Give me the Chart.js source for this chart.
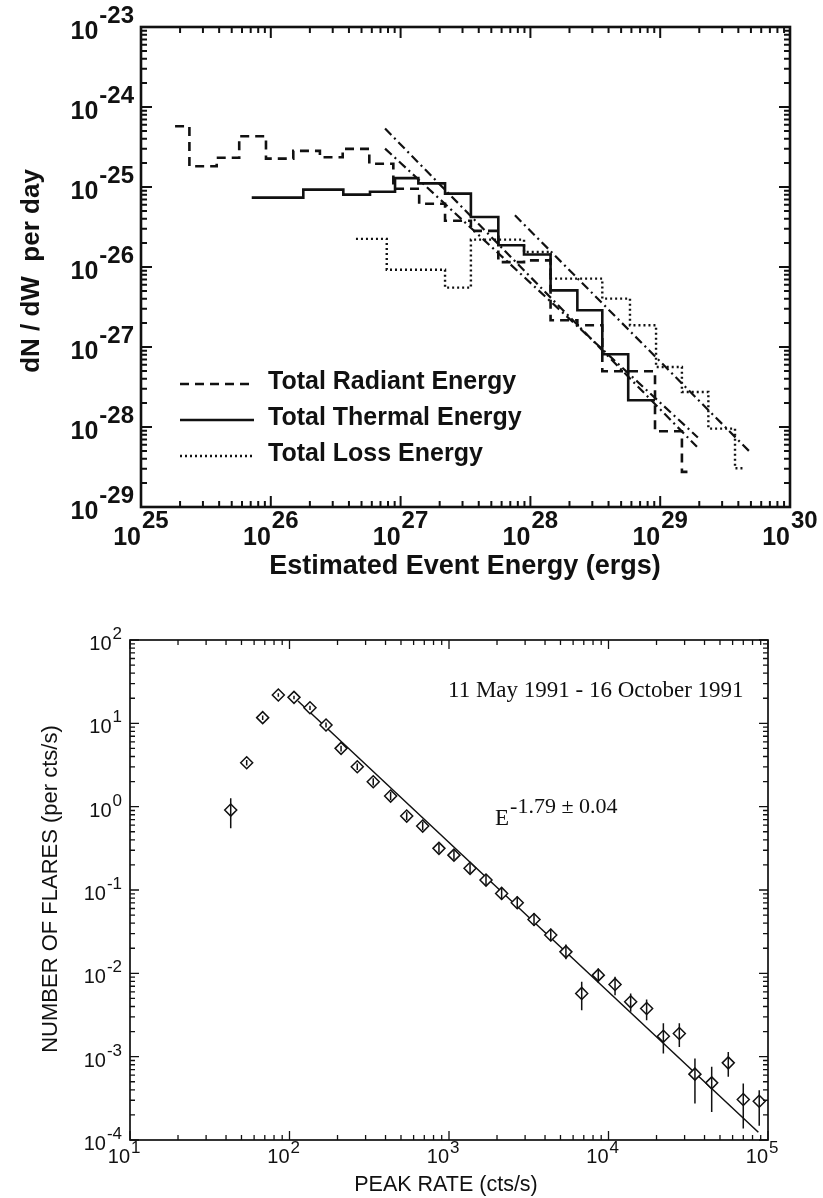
<!DOCTYPE html>
<html><head><meta charset="utf-8">
<script src="https://cdn.jsdelivr.net/npm/chart.js@4/dist/chart.umd.min.js"></script>
<style>
html,body{margin:0;padding:0;background:#fff;}
#wrap{position:relative;width:823px;height:1198px;overflow:hidden;background:#fff;}
#c1{position:absolute;left:0;top:0;}
#c2{position:absolute;left:0;top:590px;}
</style></head><body>
<div id="wrap"><canvas id="c1" width="823" height="590"></canvas><canvas id="c2" width="823" height="608"></canvas></div>
<script>
// ---------------- Top panel data ----------------
const TOP_LEGEND = ['Total Radiant Energy', 'Total Thermal Energy', 'Total Loss Energy'];
const TOP_X_EXPS = [25, 26, 27, 28, 29, 30];
const TOP_Y_EXPS = [-29, -28, -27, -26, -25, -24, -23];

const radiantEdges = [1.83e25, 2.36e25, 3.83e25, 5.71e25, 9.18e25, 1.49e26, 2.39e26, 3.58e26, 5.74e26, 8.79e26, 1.39e27, 2.20e27, 3.48e27, 5.66e27, 8.93e27, 1.43e28, 2.30e28, 3.58e28, 9.12e28, 1.47e29, 1.76e29];
const radiantValues = [5.74e-25, 1.82e-25, 2.32e-25, 4.31e-25, 2.26e-25, 2.83e-25, 2.35e-25, 3.00e-25, 1.95e-25, 9.49e-26, 6.17e-26, 3.78e-26, 2.83e-26, 1.15e-26, 1.21e-26, 2.16e-27, 1.87e-27, 4.97e-28, 8.83e-29, 2.75e-29];

const thermalEdges = [7.13e25, 1.78e26, 3.62e26, 5.81e26, 9.06e26, 1.37e27, 2.20e27, 3.48e27, 5.66e27, 8.93e27, 1.43e28, 2.30e28, 3.58e28, 5.67e28, 9.12e28];
const thermalValues = [7.37e-26, 9.27e-26, 8.04e-26, 8.71e-26, 1.29e-25, 1.11e-25, 8.27e-26, 4.22e-26, 1.87e-26, 1.43e-26, 5.11e-27, 2.88e-27, 8.11e-28, 2.16e-28];

const lossEdges = [4.53e26, 7.82e26, 2.20e27, 3.48e27, 8.93e27, 1.43e28, 3.58e28, 5.85e28, 9.29e28, 1.47e29, 2.35e29, 3.77e29, 4.34e29];
const lossValues = [2.25e-26, 9.23e-27, 5.52e-27, 2.20e-26, 1.54e-26, 7.16e-27, 4.03e-27, 1.87e-27, 5.62e-28, 2.74e-28, 9.55e-29, 3.05e-29];

const fitAEnergy = [7.59e26, 1.92e29];
const fitAValue  = [5.37e-25, 5.65e-29];
const fitBEnergy = [7.59e26, 1.95e29];
const fitBValue  = [3.02e-25, 7.40e-29];
const fitCEnergy = [7.60e27, 4.92e29];
const fitCValue  = [4.43e-26, 4.87e-29];

// ---------------- Bottom panel data ----------------
const BOT_X_EXPS = [1, 2, 3, 4, 5];
const BOT_Y_EXPS = [-4, -3, -2, -1, 0, 1, 2];
const peakRate = [42.8, 53.9, 67.9, 85.1, 106.7, 134.4, 169.4, 210.5, 266, 335, 430.5, 543, 684, 865, 1074, 1355, 1706, 2138, 2679, 3412, 4345, 5408, 6792, 8630, 10990, 13770, 17340, 22080, 27800, 34830, 44360, 56360, 69980, 88100];
const flares = [0.91, 3.37, 11.7, 21.9, 20.5, 15.4, 9.55, 5.01, 3.01, 1.99, 1.34, 0.771, 0.585, 0.316, 0.262, 0.182, 0.1315, 0.0910, 0.0702, 0.0443, 0.0288, 0.0181, 0.00574, 0.00951, 0.00736, 0.00455, 0.00379, 0.00176, 0.00190, 0.000617, 0.000485, 0.000843, 0.000306, 0.000292];
const flaresLo = [0.55, 3.12, 11.0, 20.8, 19.5, 14.5, 8.9, 4.6, 2.75, 1.8, 1.2, 0.69, 0.52, 0.28, 0.23, 0.158, 0.113, 0.077, 0.059, 0.037, 0.0242, 0.0148, 0.00361, 0.00769, 0.00547, 0.00345, 0.00274, 0.00109, 0.00131, 0.000274, 0.000217, 0.000573, 0.000137, 0.000148];
const flaresHi = [1.26, 3.62, 12.4, 23.0, 21.5, 16.3, 10.2, 5.4, 3.3, 2.2, 1.5, 0.86, 0.66, 0.36, 0.30, 0.21, 0.153, 0.107, 0.084, 0.053, 0.0343, 0.0222, 0.00791, 0.01146, 0.00908, 0.00574, 0.00486, 0.00251, 0.00251, 0.00095, 0.000755, 0.00114, 0.000476, 0.000396];
const fitRate = [113, 87000];
const fitFlares = [18.5, 1.24e-4];
const DATE_TEXT = '11 May 1991 - 16 October 1991';
const FIT_BASE = 'E';
const FIT_EXP = '-1.79 \u00B1 0.04';

// ---------------- helpers ----------------
function stepPoints(edges, values) {
  return edges.map((e, i) => ({ x: e, y: values[Math.min(i, values.length - 1)] }));
}
function pairPoints(xs, ys) { return xs.map((v, i) => ({ x: v, y: ys[i] })); }

function logTicks(scale, fn) {
  const lo = Math.floor(Math.log10(scale.min) - 1e-9), hi = Math.ceil(Math.log10(scale.max) + 1e-9);
  for (let e = lo; e <= hi; e++) {
    for (let m = 1; m <= 9; m++) {
      const v = m * Math.pow(10, e);
      if (v < scale.min * 0.9999 || v > scale.max * 1.0001) continue;
      fn(scale.getPixelForValue(v), m === 1);
    }
  }
}

function drawPow(ctx, exp, anchor, baseY, expY, mode, o) {
  const es = String(exp);
  ctx.font = o.expFont; const ew = ctx.measureText(es).width;
  ctx.font = o.baseFont; const bw = ctx.measureText('10').width;
  let bx, ex;
  if (mode === 'x') { bx = anchor - bw; ex = anchor + o.expGap; }
  else { ex = anchor - ew; bx = ex - o.expGap - bw; }
  ctx.textAlign = 'left'; ctx.textBaseline = 'alphabetic';
  ctx.font = o.baseFont; ctx.fillText('10', bx, baseY);
  ctx.font = o.expFont; ctx.fillText(es, ex, expY);
}

const framePlugin = {
  id: 'frame',
  afterDatasetsDraw(chart, args, o) {
    const ctx = chart.ctx, a = chart.chartArea, xs = chart.scales.x, ys = chart.scales.y;
    ctx.save();
    ctx.setLineDash([]);
    ctx.strokeStyle = '#111'; ctx.fillStyle = '#111';
    ctx.lineWidth = o.tickWidth; ctx.lineCap = 'butt';
    ctx.beginPath();
    logTicks(xs, (p, major) => {
      const L = major ? o.major : o.minor;
      ctx.moveTo(p, a.bottom); ctx.lineTo(p, a.bottom - L);
      ctx.moveTo(p, a.top); ctx.lineTo(p, a.top + L);
    });
    logTicks(ys, (p, major) => {
      const L = major ? o.major : o.minor;
      ctx.moveTo(a.left, p); ctx.lineTo(a.left + L, p);
      ctx.moveTo(a.right, p); ctx.lineTo(a.right - L, p);
    });
    ctx.stroke();
    ctx.lineWidth = o.frameWidth;
    ctx.strokeRect(a.left, a.top, a.right - a.left, a.bottom - a.top);
    // tick labels
    o.xExps.forEach(e => {
      const p = xs.getPixelForValue(Math.pow(10, e));
      drawPow(ctx, e, p, o.xBaseY, o.xExpY, 'x', o);
    });
    o.yExps.forEach(e => {
      const p = ys.getPixelForValue(Math.pow(10, e));
      drawPow(ctx, e, o.yRight, p + o.yBaseOff, p + o.yExpOff, 'y', o);
    });
    // axis titles
    ctx.textAlign = 'center'; ctx.textBaseline = 'middle';
    ctx.font = o.xTitleFont;
    ctx.fillText(o.xTitle, o.xTitleX, o.xTitleY);
    ctx.save();
    ctx.translate(o.yTitleX, o.yTitleY); ctx.rotate(-Math.PI / 2);
    ctx.font = o.yTitleFont;
    ctx.fillText(o.yTitle, 0, 0);
    ctx.restore();
    ctx.restore();
  }
};

const topLegendPlugin = {
  id: 'topLegend',
  afterDraw(chart, args, o) {
    const ctx = chart.ctx;
    ctx.save();
    o.rows.forEach((y, i) => {
      const ds = chart.data.datasets[i];
      ctx.strokeStyle = ds.borderColor; ctx.lineWidth = ds.borderWidth;
      ctx.setLineDash(ds.borderDash || []);
      ctx.beginPath(); ctx.moveTo(o.x0, y); ctx.lineTo(o.x1, y); ctx.stroke();
      ctx.setLineDash([]);
      ctx.fillStyle = '#111'; ctx.font = o.font;
      ctx.textAlign = 'left'; ctx.textBaseline = 'middle';
      ctx.fillText(ds.label, o.tx, y + o.textOff);
    });
    ctx.restore();
  }
};

const errorBarPlugin = {
  id: 'errbars',
  afterDatasetsDraw(chart, args, o) {
    const ctx = chart.ctx, xs = chart.scales.x, ys = chart.scales.y;
    ctx.save();
    ctx.beginPath();
    ctx.rect(chart.chartArea.left, chart.chartArea.top, chart.chartArea.right - chart.chartArea.left, chart.chartArea.bottom - chart.chartArea.top);
    ctx.clip();
    ctx.strokeStyle = '#111'; ctx.lineWidth = o.width; ctx.setLineDash([]);
    ctx.beginPath();
    peakRate.forEach((r, i) => {
      const px = xs.getPixelForValue(r);
      ctx.moveTo(px, ys.getPixelForValue(flaresLo[i]));
      ctx.lineTo(px, ys.getPixelForValue(flaresHi[i]));
    });
    ctx.stroke();
    ctx.restore();
  }
};

const annotPlugin = {
  id: 'annot',
  afterDraw(chart, args, o) {
    const ctx = chart.ctx;
    ctx.save();
    ctx.fillStyle = '#111'; ctx.textAlign = 'left'; ctx.textBaseline = 'alphabetic';
    ctx.font = o.dateFont; ctx.fillText(DATE_TEXT, o.dateX, o.dateY);
    ctx.font = o.eFont; ctx.fillText(FIT_BASE, o.eX, o.eY);
    const w = ctx.measureText(FIT_BASE).width;
    ctx.font = o.expFont; ctx.fillText(FIT_EXP, o.eX + w + 1, o.expY);
    ctx.restore();
  }
};

// ---------------- Top chart ----------------
new Chart(document.getElementById('c1'), {
  type: 'line',
  data: {
    datasets: [
      { label: TOP_LEGEND[0], data: stepPoints(radiantEdges, radiantValues), stepped: true, borderColor: '#111', borderWidth: 2.6, borderDash: [9, 6], pointRadius: 0, fill: false },
      { label: TOP_LEGEND[1], data: stepPoints(thermalEdges, thermalValues), stepped: true, borderColor: '#111', borderWidth: 2.6, pointRadius: 0, fill: false },
      { label: TOP_LEGEND[2], data: stepPoints(lossEdges, lossValues), stepped: true, borderColor: '#111', borderWidth: 2.4, borderDash: [2, 3], pointRadius: 0, fill: false },
      { label: 'fit A', data: pairPoints(fitAEnergy, fitAValue), borderColor: '#111', borderWidth: 2.2, borderDash: [9, 4, 2, 4], pointRadius: 0, fill: false },
      { label: 'fit B', data: pairPoints(fitBEnergy, fitBValue), borderColor: '#111', borderWidth: 2.2, borderDash: [9, 4, 2, 4], pointRadius: 0, fill: false },
      { label: 'fit C', data: pairPoints(fitCEnergy, fitCValue), borderColor: '#111', borderWidth: 2.2, borderDash: [9, 4, 2, 4], pointRadius: 0, fill: false }
    ]
  },
  options: {
    responsive: false, animation: false, devicePixelRatio: 1,
    layout: { padding: { left: 0, right: 33, top: 27, bottom: 0 } },
    elements: { line: { tension: 0 } },
    plugins: {
      legend: { display: false }, tooltip: { enabled: false },
      frame: {
        tickWidth: 2, frameWidth: 2.6, major: 11, minor: 6,
        xExps: TOP_X_EXPS, yExps: TOP_Y_EXPS,
        baseFont: 'bold 25px "Liberation Sans", Arial, sans-serif',
        expFont: 'bold 24px "Liberation Sans", Arial, sans-serif',
        expGap: 1, xBaseY: 545, xExpY: 528,
        yRight: 134, yBaseOff: 12, yExpOff: -4,
        xTitle: 'Estimated Event Energy (ergs)', xTitleFont: 'bold 27px "Liberation Sans", Arial, sans-serif', xTitleX: 465, xTitleY: 567,
        yTitle: 'dN / dW  per day', yTitleFont: 'bold 26px "Liberation Sans", Arial, sans-serif', yTitleX: 32, yTitleY: 271
      },
      topLegend: { rows: [384, 420, 456], x0: 180, x1: 254, tx: 268, textOff: -2, font: 'bold 25px "Liberation Sans", Arial, sans-serif' }
    },
    scales: {
      x: { type: 'logarithmic', position: 'bottom', min: 1e25, max: 1e30, grid: { display: false }, border: { display: false }, ticks: { display: false }, afterFit(s) { s.height = 83; } },
      y: { type: 'logarithmic', position: 'left', min: 1e-29, max: 1e-23, grid: { display: false }, border: { display: false }, ticks: { display: false }, afterFit(s) { s.width = 141; } }
    }
  },
  plugins: [framePlugin, topLegendPlugin]
});

// ---------------- Bottom chart ----------------
new Chart(document.getElementById('c2'), {
  type: 'line',
  data: {
    datasets: [
      { label: 'flares', data: pairPoints(peakRate, flares), showLine: false, pointStyle: 'rectRot', pointRadius: 6, pointBackgroundColor: '#fff', pointBorderColor: '#111', pointBorderWidth: 1.5 },
      { label: 'fit', data: pairPoints(fitRate, fitFlares), borderColor: '#111', borderWidth: 1.5, pointRadius: 0, fill: false }
    ]
  },
  options: {
    responsive: false, animation: false, devicePixelRatio: 1,
    layout: { padding: { left: 0, right: 55, top: 50, bottom: 0 } },
    elements: { line: { tension: 0 } },
    plugins: {
      legend: { display: false }, tooltip: { enabled: false },
      errbars: { width: 1.5 },
      frame: {
        tickWidth: 1.3, frameWidth: 1.7, major: 9, minor: 5,
        xExps: BOT_X_EXPS, yExps: BOT_Y_EXPS,
        baseFont: '20px "Liberation Sans", Arial, sans-serif',
        expFont: '17px "Liberation Sans", Arial, sans-serif',
        expGap: 1, xBaseY: 573, xExpY: 563,
        yRight: 122, yBaseOff: 10, yExpOff: -1,
        xTitle: 'PEAK RATE (cts/s)', xTitleFont: '21.5px "Liberation Sans", Arial, sans-serif', xTitleX: 446, xTitleY: 595,
        yTitle: 'NUMBER OF FLARES (per cts/s)', yTitleFont: '22px "Liberation Sans", Arial, sans-serif', yTitleX: 51, yTitleY: 299
      },
      annot: {
        dateFont: '23px "Liberation Serif", "Times New Roman", serif', dateX: 448, dateY: 107,
        eFont: '23px "Liberation Serif", "Times New Roman", serif', eX: 495, eY: 235,
        expFont: '22px "Liberation Serif", "Times New Roman", serif', expY: 223
      }
    },
    scales: {
      x: { type: 'logarithmic', position: 'bottom', min: 10, max: 1e5, grid: { display: false }, border: { display: false }, ticks: { display: false }, afterFit(s) { s.height = 58; } },
      y: { type: 'logarithmic', position: 'left', min: 1e-4, max: 100, grid: { display: false }, border: { display: false }, ticks: { display: false }, afterFit(s) { s.width = 130; } }
    }
  },
  plugins: [errorBarPlugin, framePlugin, annotPlugin]
});
</script>
</body></html>
